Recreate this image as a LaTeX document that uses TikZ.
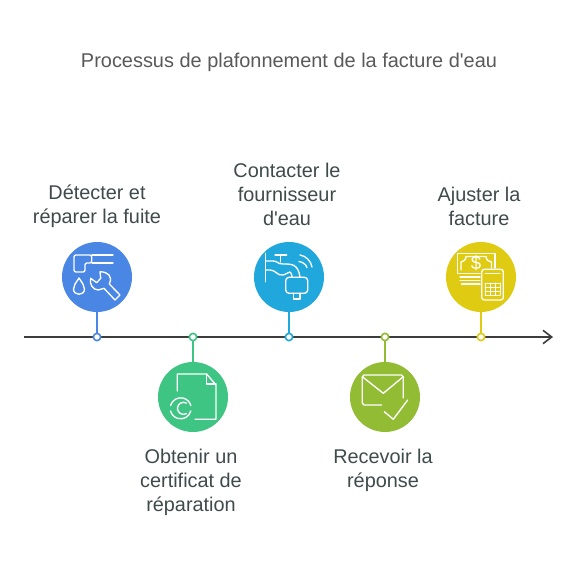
\documentclass[tikz,border=0pt]{standalone}
\usepackage{fontspec}
\setmainfont{Liberation Sans}
\usetikzlibrary{arrows.meta}
\definecolor{stepblue}{HTML}{4A86E4}
\definecolor{stepgreen}{HTML}{3FC583}
\definecolor{stepcyan}{HTML}{20A8DC}
\definecolor{stepolive}{HTML}{93BC35}
\definecolor{stepyellow}{HTML}{DFCB12}
\definecolor{axiscol}{HTML}{3D3D3D}
\definecolor{labelcol}{HTML}{3F4A4A}

\begin{document}
\begin{tikzpicture}[x=0.75pt,y=-0.75pt,
disc/.style={circle,minimum size=52.5pt,inner sep=0pt,fill=#1},
tick/.style={circle,draw=#1,line width=1.2pt,fill=white,minimum size=5.5pt,inner sep=0pt},
stem/.style={draw=#1,line width=1.2pt},
axis/.style={draw=axiscol,line width=1.2pt,-{Straight Barb[length=6.5pt,width=10pt,line width=1.2pt]}},
label/.style={align=center,text=labelcol,font=\fontsize{14.9}{18}\selectfont},
glyph/.style={draw=white,line width=1pt,line cap=round,line join=round}]
\useasboundingbox (0,0) rectangle (578,566);
\node[font=\fontsize{14.95}{18}\selectfont,text=black!65] (title) at (289,62) {Processus de plafonnement de la facture d\textquotesingle eau};
\coordinate (axisstart) at (24,337);
\coordinate (axisend) at (553,337);
\draw[axis] (axisstart) -- (axisend);
\node[disc=stepblue] (detect) at (97,277) {};
\node[disc=stepgreen] (certif) at (193,397) {};
\node[disc=stepcyan] (contact) at (289,277) {};
\node[disc=stepolive] (reply) at (385,397) {};
\node[disc=stepyellow] (adjust) at (481,277) {};
\node[tick=stepblue] (tickA) at (97,337) {};
\node[tick=stepgreen] (tickB) at (193,337) {};
\node[tick=stepcyan] (tickC) at (289,337) {};
\node[tick=stepolive] (tickD) at (385,337) {};
\node[tick=stepyellow] (tickE) at (481,337) {};
\draw[stem=stepblue] (detect) -- (tickA);
\draw[stem=stepgreen] (certif) -- (tickB);
\draw[stem=stepcyan] (contact) -- (tickC);
\draw[stem=stepolive] (reply) -- (tickD);
\draw[stem=stepyellow] (adjust) -- (tickE);
\node[label] (detecttxt) at (97,206) {Détecter et\\réparer la fuite};
\node[label] (certiftxt) at (191,482) {Obtenir un\\certificat de\\réparation};
\node[label] (contacttxt) at (287,194) {Contacter le\\fournisseur\\d\textquotesingle eau};
\node[label] (replytxt) at (383,470) {Recevoir la\\réponse};
\node[label] (adjusttxt) at (479,206) {Ajuster la\\facture};
\draw[glyph] (92,255) -- (113,255);
\draw[glyph] (92,263) -- (113,263);
\draw[glyph,rounded corners=1.5pt] (91.7,255) -- (74,255) -- (74,272) -- (85,272) -- (85,263) -- (91.7,263) -- cycle;
\draw[glyph] (79,278) .. controls (76,283) and (73.5,285) .. (73.5,289) .. controls (73.5,296) and (84.5,296) .. (84.5,289) .. controls (84.5,285) and (82,283) .. (79,278);
\draw[glyph] (100,271.7) -- (100.7,278.3) -- (96.7,282.7) -- (90.7,278.3) .. controls (89,284) and (93,290) .. (98.3,290) -- (104,288.3) -- (115,300) -- (120,295) -- (109.3,284) .. controls (113,276) and (108,272) .. (100,271.7);
\draw[glyph] (177.3,391) -- (177.3,374) -- (206.7,374) -- (216,385) -- (216,419.3) -- (195,419.3);
\draw[glyph] (206.7,374) -- (206.7,384) -- (216,384);
\draw[glyph] (180.7,408.3) ++(15:10.5) arc (15:165:10.5);
\draw[glyph] (180.7,408.3) ++(195:10.5) arc (195:345:10.5);
\draw[glyph] (183.5,408.3) ++(60:6) arc (60:300:6);
\draw[glyph] (265.7,253.3) -- (265.7,281.7);
\draw[glyph] (275,255) -- (286.7,255);
\draw[glyph] (280.7,255) -- (280.7,262);
\draw[glyph] (265.7,261) -- (273,261) .. controls (278,261) and (277,264) .. (283,264) .. controls (292,264) and (298,264) .. (300,277);
\draw[glyph] (265.7,270) -- (270,270) .. controls (276,270) and (277,276) .. (283,275) .. controls (287,274) and (288,272) .. (290,272) .. controls (291,272) and (292,275) .. (292,277);
\draw[glyph,rounded corners=2.5pt] (285.7,277.3) rectangle (307.7,293.3);
\draw[glyph] (293.3,293.3) -- (293.3,299) -- (300,299) -- (300,293.3);
\draw[glyph] (300,255) .. controls (306,256) and (311,261) .. (312,267);
\draw[glyph] (299,261.5) .. controls (302,262) and (306,264) .. (307,267.5);
\draw[glyph] (381.7,405) -- (364,405) -- (362.3,403) -- (362.3,377) -- (364,375) -- (401.5,375) -- (403.3,377) -- (403.3,398);
\draw[glyph] (362.3,376.7) -- (383.3,393.3) -- (403.3,376.7);
\draw[glyph] (384.3,411.7) -- (393.3,419.3) -- (407.7,400);
\draw[glyph] (480,273.3) -- (457.3,273.3) -- (457.3,253.3) -- (495,253.3) -- (495,268);
\draw[glyph] (461,270) -- (461,262) .. controls (463,262) and (466,260) .. (466,256.5) -- (486,256.5) .. controls (486,260) and (489,262) .. (491.5,262) -- (491.5,268);
\node[text=white,font=\fontsize{14}{14}\selectfont] (dollar) at (476,263.3) {\$};
\draw[glyph] (460,277) -- (480,277);
\draw[glyph] (460,280.5) -- (480,280.5);
\draw[glyph] (461.5,284) -- (480,284);
\draw[glyph,rounded corners=2pt] (481.7,269.3) rectangle (503.3,300);
\draw[glyph,line width=0.7pt] (485,273) -- (500,273);
\foreach \row in {283,287,291,295} {
\draw[glyph,line width=0.6pt] (485,\row) -- (500,\row);
}
\foreach \col in {485,490,495,500} {
\draw[glyph,line width=0.6pt] (\col,283) -- (\col,295);
}
\end{tikzpicture}
\end{document}
